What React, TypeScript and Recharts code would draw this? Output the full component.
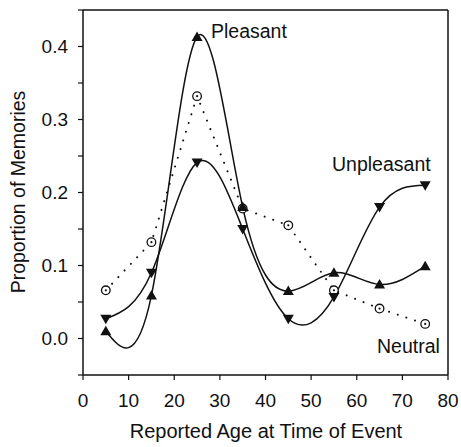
import { LineChart, Line, XAxis, YAxis, ReferenceLine } from "recharts";

const ages = [5, 15, 25, 35, 45, 55, 65, 75];
const pleasant = [0.01, 0.059, 0.413, 0.18, 0.065, 0.09, 0.074, 0.099];
const unpleasant = [0.027, 0.09, 0.241, 0.15, 0.027, 0.057, 0.18, 0.21];
const neutral = [0.066, 0.132, 0.332, 0.178, 0.155, 0.066, 0.041, 0.02];

const xTicks = [0, 10, 20, 30, 40, 50, 60, 70, 80];
const yTicks = [-0.05, 0, 0.05, 0.1, 0.15, 0.2, 0.25, 0.3, 0.35, 0.4, 0.45];
const yTickLabels = ["", "0.0", "", "0.1", "", "0.2", "", "0.3", "", "0.4", ""];

const data = ages.map((age, i) => ({
    age,
    pleasant: pleasant[i],
    unpleasant: unpleasant[i],
    neutral: neutral[i],
}));

const font = "'Liberation Sans', Arial, sans-serif";
const ink = "#111";

// markers
const UpTri = (props: any) => {
    const { cx, cy } = props;
    if (cx == null || cy == null) return null;
    return <path d={`M${cx},${cy - 5.5} L${cx + 5.5},${cy + 4} L${cx - 5.5},${cy + 4} Z`} fill={ink} />;
};

const DownTri = (props: any) => {
    const { cx, cy } = props;
    if (cx == null || cy == null) return null;
    return <path d={`M${cx},${cy + 5.5} L${cx + 5.5},${cy - 4} L${cx - 5.5},${cy - 4} Z`} fill={ink} />;
};

const DotCircle = (props: any) => {
    const { cx, cy } = props;
    if (cx == null || cy == null) return null;
    return (
        <g>
            <circle cx={cx} cy={cy} r={4.3} fill="#fff" stroke={ink} strokeWidth={1.3} />
            <circle cx={cx} cy={cy} r={1.1} fill={ink} />
        </g>
    );
};

export default function App() {
    return (
        <div style={{ position: "absolute", left: 0, top: 0, background: "#fff" }}>
            <LineChart
                width={461}
                height={447}
                data={data}
                margin={{ top: 10, right: 13, bottom: 0, left: 23 }}
            >
                <XAxis
                    dataKey="age"
                    type="number"
                    domain={[0, 80]}
                    ticks={xTicks}
                    height={72}
                    tickSize={5}
                    tickMargin={14}
                    axisLine={{ stroke: ink, strokeWidth: 1.5 }}
                    tickLine={{ stroke: ink, strokeWidth: 1.2 }}
                    tick={{ fill: ink, fontSize: 19, fontFamily: font }}
                />
                <YAxis
                    type="number"
                    domain={[-0.05, 0.45]}
                    ticks={yTicks}
                    interval={0}
                    width={60}
                    tickSize={5}
                    tickMargin={10}
                    tickFormatter={(v: number, i: number) => yTickLabels[i] ?? ""}
                    axisLine={{ stroke: ink, strokeWidth: 1.5 }}
                    tickLine={{ stroke: ink, strokeWidth: 1.2 }}
                    tick={{ fill: ink, fontSize: 19, fontFamily: font }}
                />
                <ReferenceLine y={0.45} stroke={ink} strokeWidth={1.5} />
                <ReferenceLine x={80} stroke={ink} strokeWidth={1.5} />
                <Line
                    dataKey="neutral"
                    type="linear"
                    stroke={ink}
                    strokeWidth={2}
                    strokeDasharray="0.1 9"
                    strokeLinecap="round"
                    dot={<DotCircle />}
                    isAnimationActive={false}
                />
                <Line
                    dataKey="unpleasant"
                    type="natural"
                    stroke={ink}
                    strokeWidth={1.5}
                    dot={<DownTri />}
                    isAnimationActive={false}
                />
                <Line
                    dataKey="pleasant"
                    type="natural"
                    stroke={ink}
                    strokeWidth={1.5}
                    dot={<UpTri />}
                    isAnimationActive={false}
                />
                <text x={211} y={38} fontSize={19.5} fontFamily={font} fill={ink}>Pleasant</text>
                <text x={332} y={171} fontSize={19.5} fontFamily={font} fill={ink}>Unpleasant</text>
                <text x={377} y={353} fontSize={19.5} fontFamily={font} fill={ink}>Neutral</text>
                <text x={266} y={438} fontSize={20} fontFamily={font} fill={ink} textAnchor="middle">
                    Reported Age at Time of Event
                </text>
                <text
                    x={0}
                    y={0}
                    fontSize={19.5}
                    fontFamily={font}
                    fill={ink}
                    textAnchor="middle"
                    transform="translate(25,192) rotate(-90)"
                >
                    Proportion of Memories
                </text>
            </LineChart>
        </div>
    );
}
